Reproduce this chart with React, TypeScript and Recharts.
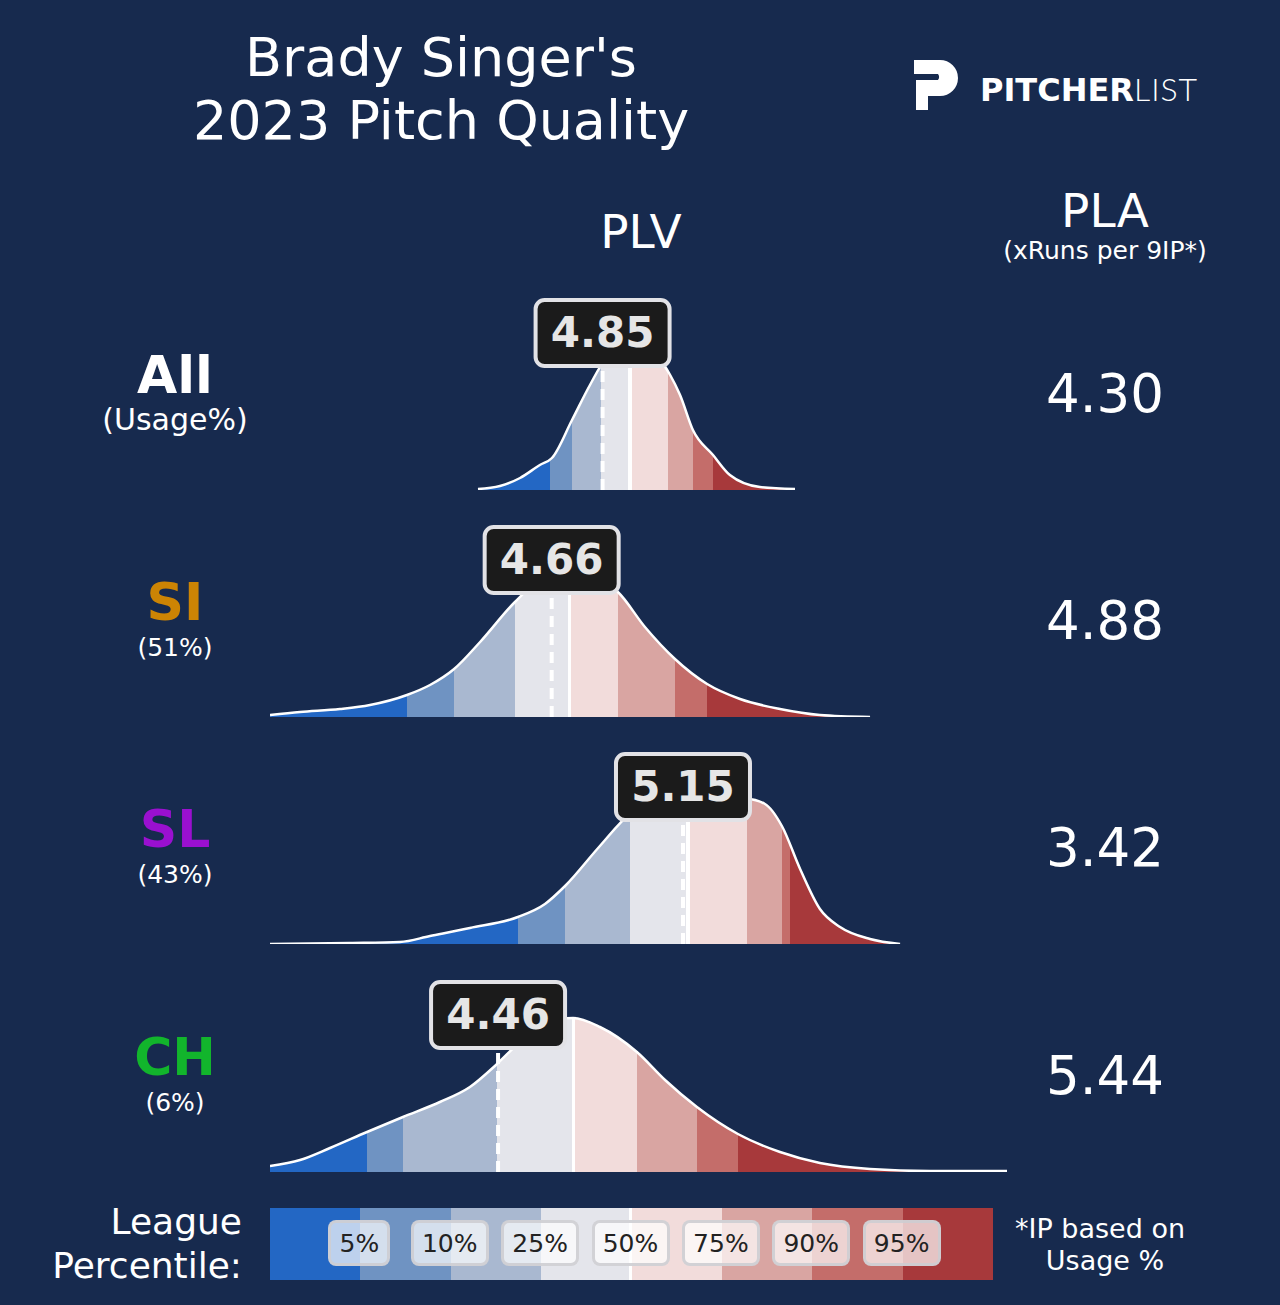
import React from "react";
import { ComposedChart, Area, XAxis, YAxis, ReferenceLine, ReferenceDot } from "recharts";

const X_DOMAIN: [number, number] = [3.609, 6.359];
const Y_DOMAIN: [number, number] = [0, 210];

const pitchNames = ["All", "SI", "SL", "CH"];
const usage = ["(Usage%)", "(51%)", "(43%)", "(6%)"];
const nameColors = ["#ffffff", "#cc8404", "#9a10d0", "#12b52c"];
const plvValues = [4.85, 4.66, 5.15, 4.46];
const plaValues = ["4.30", "4.88", "3.42", "5.44"];

// PLV grid and densities for each row
const allX = [4.385, 4.467, 4.542, 4.616, 4.661, 4.736, 4.803, 4.859, 4.915, 4.99, 5.064, 5.102, 5.139, 5.187, 5.262, 5.325, 5.437, 5.568];
const allY = [1, 4, 12, 25, 32, 70, 105, 130, 138, 140, 130, 115, 95, 60, 35, 15, 3, 1];
const siX = [3.609, 3.721, 3.87, 3.982, 4.12, 4.206, 4.296, 4.393, 4.523, 4.598, 4.691, 4.803, 4.907, 5.008, 5.12, 5.24, 5.363, 5.512, 5.661, 5.848];
const siY = [2, 5, 8, 12, 22, 32, 48, 75, 115, 133, 140, 140, 125, 90, 58, 33, 18, 8, 2, 0];
const slX = [3.609, 3.907, 4.094, 4.206, 4.355, 4.534, 4.635, 4.71, 4.84, 4.952, 5.064, 5.213, 5.389, 5.456, 5.519, 5.587, 5.661, 5.736, 5.848, 5.96];
const slY = [0, 1, 2, 8, 16, 27, 40, 58, 98, 130, 143, 143, 145, 140, 118, 75, 35, 17, 5, 0];
const chX = [3.609, 3.721, 3.833, 3.971, 4.105, 4.243, 4.355, 4.456, 4.542, 4.654, 4.74, 4.84, 4.978, 5.083, 5.202, 5.355, 5.512, 5.661, 5.848, 6.072, 6.359];
const chY = [6, 12, 24, 40, 55, 70, 85, 108, 130, 150, 154, 145, 120, 92, 65, 38, 20, 9, 3, 1, 1];

// league percentile cut points (5,10,25,50,75,90,95) per row
const allCuts = [4.654, 4.736, 4.844, 4.952, 5.094, 5.187, 5.262];
const siCuts = [4.12, 4.296, 4.523, 4.728, 4.907, 5.12, 5.24];
const slCuts = [4.534, 4.71, 4.952, 5.169, 5.389, 5.519, 5.549];
const chCuts = [3.971, 4.105, 4.456, 4.74, 4.978, 5.202, 5.355];

const bandColors = ["#2367c4", "#6f93c2", "#a9b8d0", "#e4e5eb", "#f2dcdb", "#d9a5a2", "#c46d6a", "#a7393b"];
const percentileLabels = ["5%", "10%", "25%", "50%", "75%", "90%", "95%"];

const rows = [
  { xs: allX, ys: allY, cuts: allCuts },
  { xs: siX, ys: siY, cuts: siCuts },
  { xs: slX, ys: slY, cuts: slCuts },
  { xs: chX, ys: chY, cuts: chCuts },
];
const baselines = [490, 717, 944, 1172];

const BG = "#172a4e";
const FONT = "DejaVu Sans, sans-serif";
const CW = 737;
const CH_H = 210;

function off(v: number) {
  return ((v - X_DOMAIN[0]) / (X_DOMAIN[1] - X_DOMAIN[0])) * 100;
}

function Gradient({ id, cuts }: { id: string; cuts: number[] }) {
  const stops: React.ReactNode[] = [];
  let prev = 0;
  const half = (1.6 / CW) * 100;
  bandColors.forEach((c, i) => {
    const end = i < cuts.length ? off(cuts[i]) : 100;
    stops.push(<stop key={`a${i}`} offset={`${prev}%`} stopColor={c} />);
    if (i === 3) {
      stops.push(<stop key={`b${i}`} offset={`${end - half}%`} stopColor={c} />);
      stops.push(<stop key={`w1`} offset={`${end - half}%`} stopColor="#ffffff" />);
      stops.push(<stop key={`w2`} offset={`${end + half}%`} stopColor="#ffffff" />);
      prev = end + half;
    } else {
      stops.push(<stop key={`b${i}`} offset={`${end}%`} stopColor={c} />);
      prev = end;
    }
  });
  return (
    <linearGradient id={id} gradientUnits="userSpaceOnUse" x1={0} y1={0} x2={CW} y2={0}>
      {stops}
    </linearGradient>
  );
}

const ValueBox = (value: number) => (props: any) => {
  const { cx, cy } = props;
  return (
    <g>
      <rect x={cx - 67} y={cy - 33} width={134} height={66} rx={9} fill="#1b1b1b" stroke="#e2e2e6" strokeWidth={4} />
      <text x={cx} y={cy + 14} textAnchor="middle" fill="#e6e6e6" fontSize={42} fontWeight="bold" fontFamily={FONT}>
        {value.toFixed(2)}
      </text>
    </g>
  );
};

function DensityRow({ idx }: { idx: number }) {
  const r = rows[idx];
  const data = r.xs.map((x, i) => ({ x, y: r.ys[i] }));
  const v = plvValues[idx];
  return (
    <div style={{ position: "absolute", left: 270, top: baselines[idx] - CH_H }}>
      <ComposedChart width={CW} height={CH_H} data={data} margin={{ top: 0, right: 0, bottom: 0, left: 0 }}>
        <defs>
          <Gradient id={`g${idx}`} cuts={r.cuts} />
        </defs>
        <XAxis dataKey="x" type="number" domain={X_DOMAIN} hide allowDataOverflow />
        <YAxis domain={Y_DOMAIN} hide allowDataOverflow />
        <Area
          dataKey="y"
          type="monotone"
          stroke="#ffffff"
          strokeWidth={2.5}
          fill={`url(#g${idx})`}
          fillOpacity={1}
          isAnimationActive={false}
        />
        <ReferenceLine
          segment={[{ x: v, y: 0 }, { x: v, y: 123 }]}
          stroke="#ffffff"
          strokeWidth={4}
          strokeDasharray="11 7"
          ifOverflow="visible"
        />
        <ReferenceDot x={v} y={157} ifOverflow="visible" shape={ValueBox(v)} />
      </ComposedChart>
    </div>
  );
}

function Txt({ x, y, size, children, bold, color = "#ffffff", anchor = "center", weight }: any) {
  const tx = anchor === "center" ? "-50%" : anchor === "right" ? "-100%" : "0";
  return (
    <div
      style={{
        position: "absolute",
        left: x,
        top: y,
        transform: `translate(${tx}, -50%)`,
        fontSize: size,
        fontWeight: weight ?? (bold ? "bold" : "normal"),
        color,
        whiteSpace: "nowrap",
        lineHeight: 1,
        fontFamily: FONT,
      }}
    >
      {children}
    </div>
  );
}

export default function App() {
  const segW = (993 - 270) / bandColors.length;
  return (
    <div style={{ position: "absolute", left: 0, top: 0, width: 1280, height: 1305, background: BG, overflow: "hidden", fontFamily: FONT }}>
      <Txt x={441} y={58} size={54}>Brady Singer's</Txt>
      <Txt x={441} y={121} size={54}>2023 Pitch Quality</Txt>

      <svg style={{ position: "absolute", left: 908, top: 56 }} width={54} height={60}>
        <path d="M6 4 H32 A18 18 0 0 1 32 40 H20 V54 H8 V24 H30 A5 5 0 0 0 30 18 H6 Z" fill="#ffffff" />
      </svg>
      <Txt x={980} y={89} size={32} anchor="left">
        <span style={{ fontWeight: "bold" }}>PITCHER</span>
        <span style={{ fontWeight: 300, fontFamily: "Lato, sans-serif", letterSpacing: 1 }}>LIST</span>
      </Txt>

      <Txt x={641} y={231} size={47}>PLV</Txt>
      <Txt x={1105} y={210} size={47}>PLA</Txt>
      <Txt x={1105} y={250} size={25}>(xRuns per 9IP*)</Txt>

      {pitchNames.map((n, i) => (
        <React.Fragment key={n}>
          <Txt x={175} y={baselines[i] - 115} size={52} bold color={nameColors[i]}>{n}</Txt>
          <Txt x={175} y={baselines[i] - 70} size={i === 0 ? 30 : 25}>{usage[i]}</Txt>
          <Txt x={1105} y={baselines[i] - 97} size={53}>{plaValues[i]}</Txt>
        </React.Fragment>
      ))}

      {rows.map((_, i) => (
        <DensityRow key={i} idx={i} />
      ))}

      <Txt x={242} y={1222} size={36} anchor="right">League</Txt>
      <Txt x={242} y={1266} size={36} anchor="right">Percentile:</Txt>
      <div style={{ position: "absolute", left: 270, top: 1208, width: 723, height: 72, display: "flex" }}>
        {bandColors.map((c) => (
          <div key={c} style={{ width: segW, height: 72, background: c }} />
        ))}
      </div>
      <div style={{ position: "absolute", left: 629, top: 1208, width: 3, height: 72, background: "#ffffff" }} />
      {percentileLabels.map((p, i) => (
        <div
          key={p}
          style={{
            position: "absolute",
            left: 270 + segW * (i + 1) - 32 - (i < 2 ? 0 : 0),
            top: 1220,
            width: i === 0 ? 62 : 78,
            marginLeft: i === 0 ? 0 : -8,
            height: 46,
            boxSizing: "border-box",
            borderRadius: 8,
            border: "3px solid rgba(205,205,210,0.9)",
            background: "rgba(255,255,255,0.7)",
            display: "flex",
            alignItems: "center",
            justifyContent: "center",
            fontSize: 25,
            color: "#222",
            fontFamily: FONT,
          }}
        >
          {p}
        </div>
      ))}
      <Txt x={1100} y={1228} size={27}>*IP based on</Txt>
      <Txt x={1105} y={1260} size={27}>Usage %</Txt>
    </div>
  );
}
